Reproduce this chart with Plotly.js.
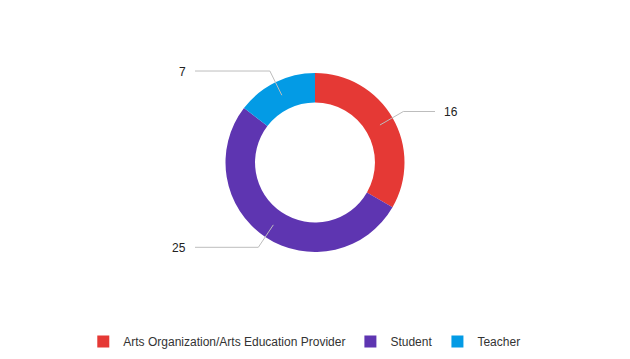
<!DOCTYPE html>
<html>
<head>
<meta charset="utf-8">
<script src="https://cdn.plot.ly/plotly-3.0.1.min.js"></script>
<style>html,body{margin:0;padding:0;background:#fff;}#chart{width:630px;height:359px;}</style>
</head>
<body>
<div id="chart"></div>
<script>
const categories = ["Arts Organization/Arts Education Provider", "Student", "Teacher"];
const counts = [16, 25, 7];
const colors = ["#E53935", "#5E35B1", "#039BE5"];

const W = 630, H = 359;
const cx = 315, cy = 162.5, rOuter = 89.5;
const rStart = 75, rElbow = 102, hReach = 120;
const FONT = 'Liberation Sans, Arial, sans-serif';

const total = counts.reduce((a, b) => a + b, 0);
const shapes = [], annotations = [];
let cum = 0;
counts.forEach((v, i) => {
  const mid = (cum + v / 2) / total;
  cum += v;
  const th = 2 * Math.PI * mid;
  const sx = cx + rStart * Math.sin(th), sy = cy - rStart * Math.cos(th);
  const ex = cx + rElbow * Math.sin(th), ey = cy - rElbow * Math.cos(th);
  const right = Math.sin(th) >= 0;
  const hx = right ? cx + hReach : cx - hReach;
  const px = x => x / W, py = y => 1 - y / H;
  shapes.push({
    type: 'path', xref: 'paper', yref: 'paper',
    path: `M${px(sx)},${py(sy)} L${px(ex)},${py(ey)} L${px(hx)},${py(ey)}`,
    line: {color: '#bdbdbd', width: 1}
  });
  annotations.push({
    xref: 'paper', yref: 'paper', x: px(right ? hx + 7 : hx - 7), y: py(ey + 0.5),
    xanchor: right ? 'left' : 'right', yanchor: 'middle',
    text: String(v), showarrow: false,
    font: {family: FONT, size: 12, color: '#222'}
  });
});

const data = [{
  type: 'pie',
  labels: categories,
  values: counts,
  hole: 0.67,
  sort: false,
  direction: 'clockwise',
  rotation: 0,
  textinfo: 'none',
  marker: {colors: colors, line: {width: 0}},
  domain: {x: [0, 1], y: [1 - (cy + rOuter) / H, 1 - (cy - rOuter) / H]},
  hoverinfo: 'label+value'
}];

const layout = {
  width: W, height: H,
  margin: {l: 0, r: 0, t: 0, b: 0},
  paper_bgcolor: '#fff',
  showlegend: true,
  legend: {
    orientation: 'h', x: 0.483, xanchor: 'center', y: 1 - 341.5 / H, yanchor: 'middle',
    font: {family: FONT, size: 12, color: '#333'},
    itemclick: false
  },
  shapes: shapes,
  annotations: annotations
};

Plotly.newPlot('chart', data, layout, {displayModeBar: false, staticPlot: true});
</script>
</body>
</html>
